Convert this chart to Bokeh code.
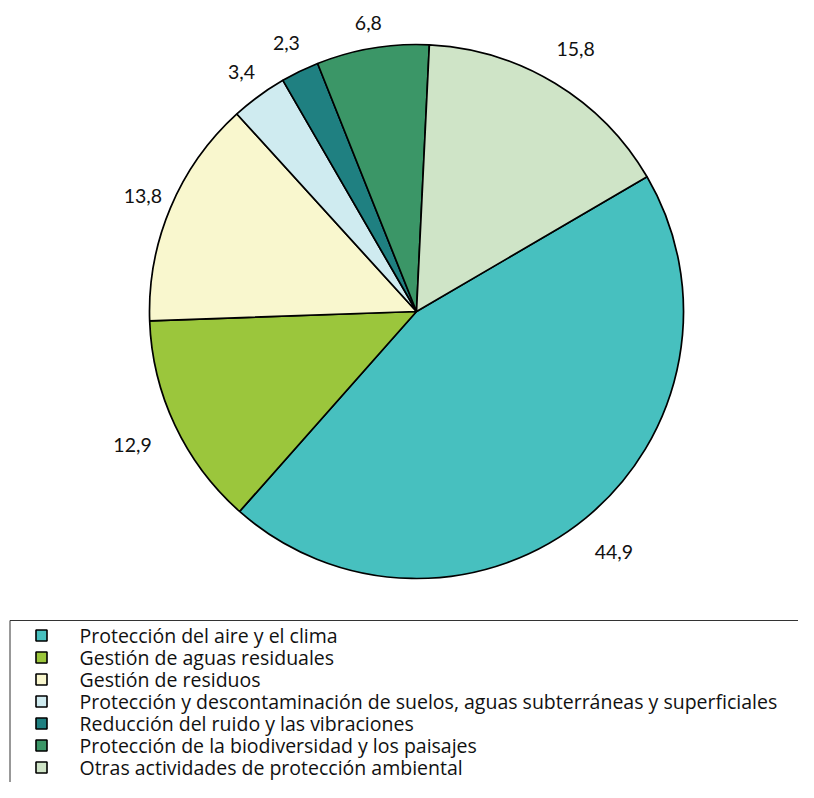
import math
from bokeh.plotting import figure
from bokeh.models import Range1d, ColumnDataSource
from bokeh.core.properties import value
from bokeh.embed import file_html
from bokeh.resources import INLINE

# ---- data ----
categories = [
    "Protección del aire y el clima",
    "Gestión de aguas residuales",
    "Gestión de residuos",
    "Protección y descontaminación de suelos, aguas subterráneas y superficiales",
    "Reducción del ruido y las vibraciones",
    "Protección de la biodiversidad y los paisajes",
    "Otras actividades de protección ambiental",
]
values = [44.9, 12.9, 13.8, 3.4, 2.3, 6.8, 15.8]
labels = ["44,9", "12,9", "13,8", "3,4", "2,3", "6,8", "15,8"]
colors = ["#47C0BF", "#9BC63C", "#F9F7CE", "#CFEBF0", "#1F8081", "#3B9667", "#CFE4C7"]

# ---- style / layout ----
W, H = 798, 782
LEG_FONT = "Open Sans"
LAB_FONT = "Lato"
first_angle = 59.7          # degrees clockwise from 12 o'clock where first slice starts
cx, cy, R = 416, H - 311, 267
label_offset = [44, 47, 30, 29.5, 31, 25, 40]   # label distance beyond the rim (px)

p = figure(width=W, height=H, output_backend="svg", toolbar_location=None,
           x_range=Range1d(0, W), y_range=Range1d(0, H),
           x_axis_type=None, y_axis_type=None, min_border=0)
p.outline_line_color = None
p.grid.visible = False
p.background_fill_color = "white"

total = sum(values)
starts, ends, lx, ly = [], [], [], []
cum = first_angle
for v, off in zip(values, label_offset):
    span = v / total * 360.0
    s_cw, e_cw = cum, cum + span
    starts.append(math.radians(90 - s_cw))
    ends.append(math.radians(90 - e_cw))
    mid = math.radians(90 - (s_cw + e_cw) / 2)
    r = R + off
    lx.append(cx + r * math.cos(mid))
    ly.append(cy + r * math.sin(mid))
    cum = e_cw

src = ColumnDataSource(dict(start=starts, end=ends, color=colors,
                            lx=lx, ly=ly, label=labels))
p.wedge(x=cx, y=cy, radius=R, start_angle="start", end_angle="end",
        direction="clock", fill_color="color", line_color="black",
        line_width=1.7, source=src)
p.text(x="lx", y="ly", text="label", source=src, text_align="center",
       text_baseline="middle", text_font=value(LAB_FONT), text_font_size="19.5px",
       text_color="#111111")

# legend frame
p.quad(left=[9.5], right=[W + 20], top=[H - 620], bottom=[-20],
       fill_color=None, line_color="#333333", line_width=1)

row0, step = 635, 22
ry = [H - (row0 + i * step) for i in range(len(categories))]
lsrc = ColumnDataSource(dict(y=ry, color=colors, name=categories,
                             mx=[41] * len(categories), tx=[79] * len(categories)))
p.scatter(x="mx", y="y", marker="square", size=11, fill_color="color",
          line_color="black", line_width=1.6, source=lsrc)
p.text(x="tx", y="y", text="name", source=lsrc, text_baseline="middle",
       text_font=value(LEG_FONT), text_font_size="19.5px", text_color="#111111")

open("out.html", "w").write(file_html(p, INLINE))
